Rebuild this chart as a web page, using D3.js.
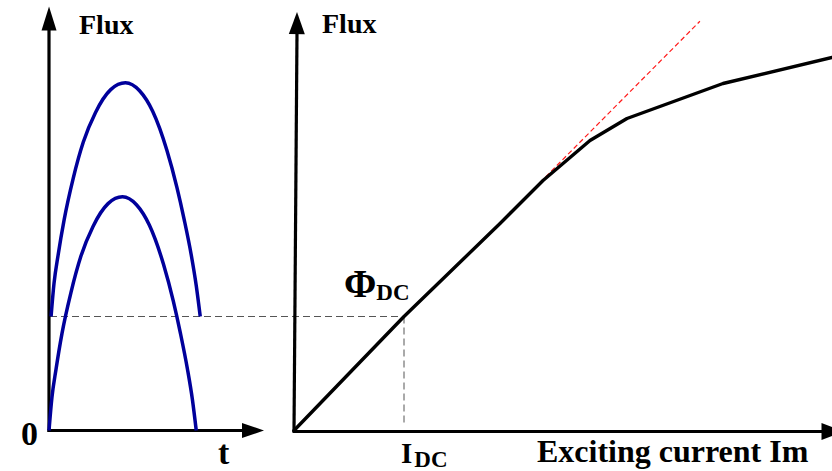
<!DOCTYPE html>
<html>
<head>
<meta charset="utf-8">
<script src="https://cdn.jsdelivr.net/npm/d3@7/dist/d3.min.js"></script>
<style>
  html, body { margin: 0; padding: 0; background: #fff; }
  svg { display: block; }
  text { font-family: "Liberation Serif", "Times New Roman", serif; font-weight: bold; fill: #000; }
</style>
</head>
<body>
<svg id="chart" width="832" height="471"></svg>
<script>
// AC flux over one half cycle (time in ms, flux in units of the DC flux)
const timeAC = [0, 0.2, 0.48, 0.88, 1.49, 2.17, 2.99, 4.01, 4.99, 5.94, 6.82, 7.77, 8.45, 8.93, 9.40, 9.74, 10.0];
const fluxAC = [0, 0.29, 0.54, 0.85, 1.21, 1.53, 1.79, 1.99, 2.05, 1.98, 1.80, 1.46, 1.13, 0.85, 0.54, 0.27, 0];

// Total flux with the DC bias added
const timeBiased = [0.14, 0.34, 0.62, 1.03, 1.64, 2.33, 3.16, 4.19, 5.19, 6.15, 7.04, 8.0, 8.69, 9.18, 9.66, 10.0, 10.27];
const fluxBiased = [1.0, 1.29, 1.54, 1.85, 2.21, 2.53, 2.79, 2.99, 3.05, 2.98, 2.80, 2.46, 2.13, 1.85, 1.54, 1.27, 1.0];

// Magnetization curve: exciting current vs flux
const currentMag = [0, 1, 1.873, 2.264, 2.691, 3.027, 3.9, 4.891];
const fluxMag = [0, 1, 1.816, 2.193, 2.544, 2.737, 3.044, 3.272];

// Extension of the linear (unsaturated) region
const currentTangent = [2.236, 3.69];
const fluxTangent = [2.175, 3.59];

// DC operating point
const phiDC = 1;
const iDC = 1;

// Axis extents (data units)
const timeMax = 14.6;
const currentMax = 4.95;
const fluxMaxLeft = 3.72;
const fluxMaxRight = 3.67;

// Labels
const labelFlux = "Flux";
const labelZero = "0";
const labelTime = "t";
const labelCurrent = "Exciting current Im";
const labelSub = "DC";

const svg = d3.select("#chart");

const yF = d3.scaleLinear().domain([0, 3.75]).range([430.5, 3]);
const xT = d3.scaleLinear().domain([0, timeMax]).range([49, 264]);
const xI = d3.scaleLinear().domain([0, currentMax]).range([294, 838.5]);

// ---- dashed guides through the DC operating point
svg.append("line")
  .attr("x1", xT(0) + 1).attr("y1", yF(phiDC))
  .attr("x2", xI(iDC)).attr("y2", yF(phiDC))
  .attr("stroke", "#555").attr("stroke-width", 1).attr("stroke-dasharray", "7,4");
svg.append("line")
  .attr("x1", xI(iDC)).attr("y1", yF(phiDC))
  .attr("x2", xI(iDC)).attr("y2", yF(0) - 8)
  .attr("stroke", "#555").attr("stroke-width", 1).attr("stroke-dasharray", "7,4");

// ---- arrow helpers
function arrowUp(x0, y0, x1, y1, headLen, headHalf) {
  svg.append("line").attr("x1", x0).attr("y1", y0).attr("x2", x1).attr("y2", y1 + headLen - 2)
    .attr("stroke", "#000").attr("stroke-width", 3.2);
  const ang = Math.atan2(y1 - y0, x1 - x0);
  const bx = x1 - headLen * Math.cos(ang), by = y1 - headLen * Math.sin(ang);
  const px = -Math.sin(ang) * headHalf, py = Math.cos(ang) * headHalf;
  svg.append("path")
    .attr("d", `M${x1},${y1}L${bx + px},${by + py}L${bx - px},${by - py}Z`)
    .attr("fill", "#000");
}
function arrowRight(x0, y0, x1, headLen, headHalf) {
  svg.append("line").attr("x1", x0).attr("y1", y0).attr("x2", x1 - headLen + 2).attr("y2", y0)
    .attr("stroke", "#000").attr("stroke-width", 3.2);
  svg.append("path")
    .attr("d", `M${x1},${y0}L${x1 - headLen},${y0 - headHalf}L${x1 - headLen},${y0 + headHalf}Z`)
    .attr("fill", "#000");
}

// ---- left panel: flux vs time
arrowUp(xT(0), yF(0) + 1.5, xT(0), yF(fluxMaxLeft), 24, 7.5);
arrowRight(xT(0) - 1.5, yF(0), xT(timeMax), 22, 7.5);

const lineT = d3.line().x(d => xT(d[0])).y(d => yF(d[1])).curve(d3.curveMonotoneX);
svg.append("path")
  .attr("d", lineT(d3.zip(timeAC, fluxAC)))
  .attr("fill", "none").attr("stroke", "#00009b").attr("stroke-width", 3.5);
svg.append("path")
  .attr("d", lineT(d3.zip(timeBiased, fluxBiased)))
  .attr("fill", "none").attr("stroke", "#00009b").attr("stroke-width", 3.5);

// ---- right panel: magnetization curve
arrowUp(xI(0), yF(0) + 1.5, xI(0) + 3, yF(fluxMaxRight), 22, 8);
arrowRight(xI(0) - 1.5, yF(0) + 1, xI(currentMax) + 6, 23, 8.5);

const lineI = d3.line().x(d => xI(d[0])).y(d => yF(d[1]));
svg.append("path")
  .attr("d", lineI(d3.zip(currentTangent, fluxTangent)))
  .attr("fill", "none").attr("stroke", "#ff1a1a").attr("stroke-width", 1.2).attr("stroke-dasharray", "5,3");
svg.append("path")
  .attr("d", lineI(d3.zip(currentMag, fluxMag)))
  .attr("fill", "none").attr("stroke", "#000").attr("stroke-width", 3.4)
  .attr("stroke-linejoin", "round").attr("stroke-linecap", "round");

// ---- labels
svg.append("text").attr("x", 79).attr("y", 34).attr("font-size", 28).text(labelFlux);
svg.append("text").attr("x", 322).attr("y", 33).attr("font-size", 28).text(labelFlux);
svg.append("text").attr("x", 21).attr("y", 445).attr("font-size", 34).text(labelZero);
svg.append("text").attr("x", 218).attr("y", 464).attr("font-size", 34).text(labelTime);
svg.append("text").attr("x", 537).attr("y", 462).attr("font-size", 32).text(labelCurrent);

const phi = svg.append("text").attr("x", 344).attr("y", 297);
phi.append("tspan").attr("font-size", 39).text("\u03A6");
phi.append("tspan").attr("font-size", 23).attr("dy", 3).text(labelSub);

const idc = svg.append("text").attr("x", 401).attr("y", 463);
idc.append("tspan").attr("font-size", 29).text("I");
idc.append("tspan").attr("font-size", 23).attr("dy", 4).attr("dx", 2).text(labelSub);
</script>
</body>
</html>
